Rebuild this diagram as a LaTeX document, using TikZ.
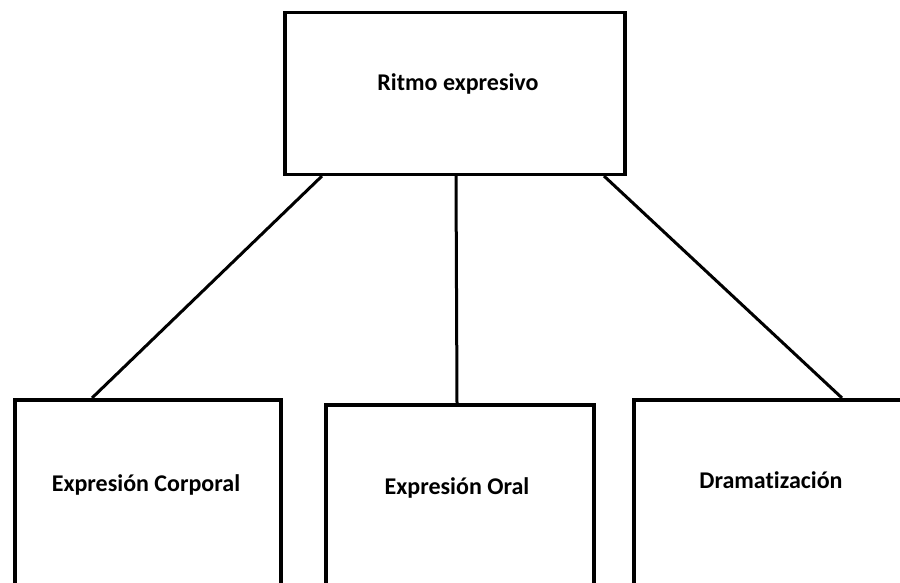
\documentclass[tikz,border=0pt]{standalone}
\usepackage{fontspec}
\setmainfont{Carlito}[Ligatures={NoCommon}]
\begin{document}
\begin{tikzpicture}[x=1pt,y=-1pt,
  box/.style={draw=black,line width=3.5pt,fill=white,rectangle,inner sep=0pt},
  lbl/.style={font=\bfseries\fontsize{24}{28}\selectfont,inner sep=0pt},
  conn/.style={draw=black,line width=3pt}]
\clip (0,0) rectangle (900,583);
\fill[white] (0,0) rectangle (900,583);
% connectors first
\coordinate (c1a) at (322,176);
\coordinate (c1b) at (92,398);
\coordinate (c2a) at (456,176);
\coordinate (c2b) at (457,403);
\coordinate (c3a) at (604,176);
\coordinate (c3b) at (842,398);
\draw[conn] (c1a) -- (c1b);
\draw[conn] (c2a) -- (c2b);
\draw[conn] (c3a) -- (c3b);
% boxes
\node[box,minimum width=340pt,minimum height=162pt] (top) at (455,93.5) {};
\node[box,minimum width=266pt,minimum height=240pt,anchor=north west] (b1) at (13,398) {};
\node[box,minimum width=268pt,minimum height=240pt,anchor=north west] (b2) at (324,403) {};
\node[box,minimum width=300pt,minimum height=240pt,anchor=north west] (b3) at (632,398) {};
% labels
\node[lbl] (t0) at (458,84) {Ritmo expresivo};
\node[lbl] (t1) at (146,485) {Expresión Corporal};
\node[lbl] (t2) at (457,488) {Expresión Oral};
\node[lbl] (t3) at (771,480) {Dramatización};
\end{tikzpicture}
\end{document}
